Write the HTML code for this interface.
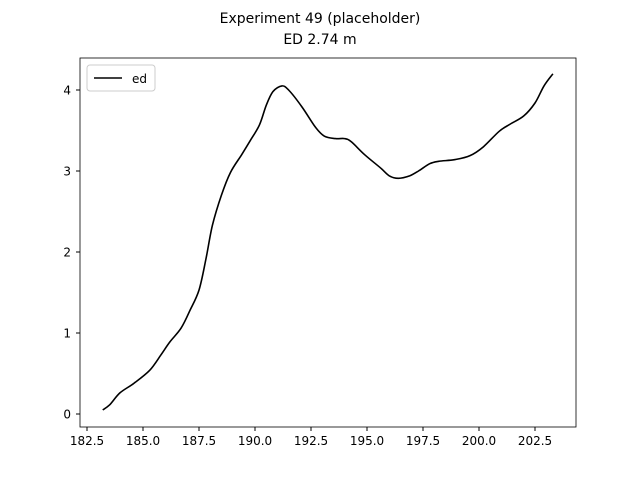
<!DOCTYPE html>
<html><head><meta charset="utf-8"><style>body{margin:0;background:#fff}svg{font-family:"DejaVu Sans","Liberation Sans",sans-serif}</style></head>
<body>
<svg id="chart" width="640" height="480">
<rect width="640" height="480" fill="#fff"/>
<text x="320" y="23" text-anchor="middle" font-size="14">Experiment 49 (placeholder)</text>
<text x="320" y="44" text-anchor="middle" font-size="14">ED 2.74 m</text>
<g id="ticks"></g>
<path id="line" fill="none" stroke="#000" stroke-width="1.6" stroke-linejoin="round"/>
<rect x="80" y="58" width="496" height="369" fill="none" stroke="#000" stroke-width="0.8"/>
<g>
<rect x="87" y="65" width="68" height="26" rx="3" fill="#fff" stroke="#ccc"/>
<line x1="94" y1="78" x2="122" y2="78" stroke="#000" stroke-width="1.6"/>
<text x="132" y="83" font-size="12">ed</text>
</g>
</svg>
<script>
const xs=[183.2,183.5,183.97,184.6,185.3,185.8,186.2,186.7,187.1,187.5,187.8,188.1,188.5,188.9,189.4,189.8,190.2,190.5,190.8,191.2,191.5,192.1,192.7,193.1,193.6,194.0,194.3,194.9,195.6,196.0,196.4,196.9,197.3,197.8,198.2,198.9,199.6,200.2,200.9,201.4,202.0,202.5,202.9,203.3];
const ys=[0.05,0.11,0.26,0.38,0.54,0.73,0.89,1.06,1.28,1.53,1.9,2.33,2.7,2.98,3.2,3.38,3.57,3.81,3.98,4.05,4.0,3.79,3.54,3.43,3.4,3.4,3.36,3.2,3.04,2.94,2.91,2.94,3.0,3.09,3.12,3.14,3.19,3.3,3.49,3.58,3.68,3.84,4.05,4.2];
const xTicks=[182.5,185.0,187.5,190.0,192.5,195.0,197.5,200.0,202.5];
const yTicks=[0,1,2,3,4];
const X=v=>87+(v-182.5)*22.4;
const Y=v=>414-v*81;
const ns="http://www.w3.org/2000/svg";
const g=document.getElementById('ticks');
xTicks.forEach(t=>{
 const l=document.createElementNS(ns,'line');
 l.setAttribute('x1',X(t));l.setAttribute('x2',X(t));l.setAttribute('y1',427);l.setAttribute('y2',431);l.setAttribute('stroke','#000');
 
 
 g.appendChild(l);
 const tx=document.createElementNS(ns,'text');
 tx.setAttribute('x',X(t));tx.setAttribute('y',445);tx.setAttribute('text-anchor','middle');tx.setAttribute('font-size','12');
 tx.textContent=t.toFixed(1);
 
 
 g.appendChild(tx);
});
yTicks.forEach(t=>{
 const l=document.createElementNS(ns,'line');
 l.setAttribute('x1',76);l.setAttribute('x2',80);l.setAttribute('y1',Y(t));l.setAttribute('y2',Y(t));l.setAttribute('stroke','#000');
 
 
 g.appendChild(l);
 const tx=document.createElementNS(ns,'text');
 tx.setAttribute('x',71);tx.setAttribute('y',Y(t)+4.5);tx.setAttribute('text-anchor','end');tx.setAttribute('font-size','12');
 tx.textContent=t;
 
 
 g.appendChild(tx);
});
const P=xs.map((x,i)=>[X(x),Y(ys[i])]);
let d='M'+P[0][0].toFixed(1)+','+P[0][1].toFixed(1);
for(let i=0;i<P.length-1;i++){
 const p0=P[Math.max(i-1,0)],p1=P[i],p2=P[i+1],p3=P[Math.min(i+2,P.length-1)];
 const c1=[p1[0]+(p2[0]-p0[0])/6,p1[1]+(p2[1]-p0[1])/6];
 const c2=[p2[0]-(p3[0]-p1[0])/6,p2[1]-(p3[1]-p1[1])/6];
 d+='C'+c1[0].toFixed(1)+','+c1[1].toFixed(1)+' '+c2[0].toFixed(1)+','+c2[1].toFixed(1)+' '+p2[0].toFixed(1)+','+p2[1].toFixed(1);
}
document.getElementById('line').setAttribute('d',d);
</script>
</body></html>
